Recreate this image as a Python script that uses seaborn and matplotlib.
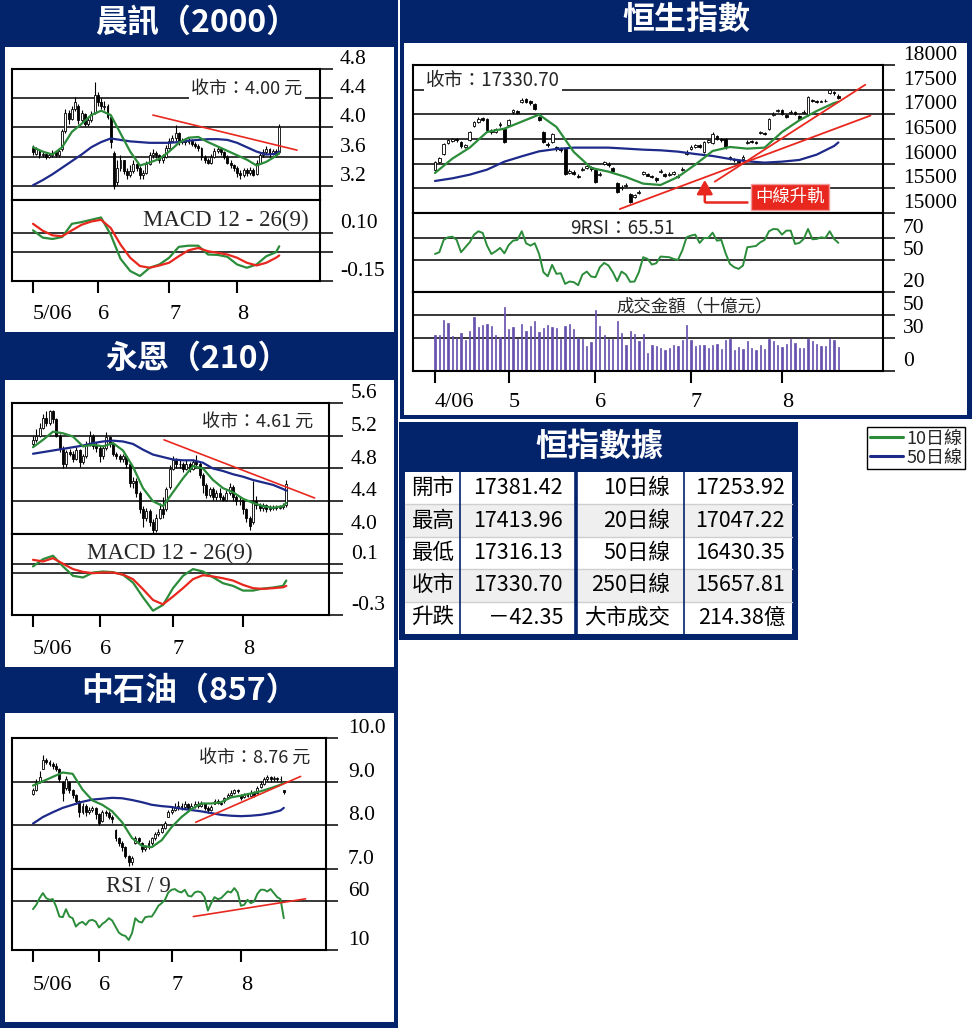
import numpy as np
import matplotlib
matplotlib.use('Agg')
import matplotlib.pyplot as plt
from matplotlib.patches import Rectangle
from matplotlib.lines import Line2D
import seaborn as sns

# ---------------- data ----------------
# trading-day index: 0 = first day of the chart window
stock_idx = [0, 3, 6, 9, 12, 15, 18, 21, 24, 27, 30, 33, 36, 39, 42, 45, 48,
             51, 54, 57, 60, 63, 66, 69, 72, 75, 76]
stock_ticks = [0, 20, 42, 63]
stock_tick_labels = ['5/06', '6', '7', '8']

# 晨訊 (2000)
cx_open = [3.72, 3.64, 3.68, 3.62, 3.64, 3.60, 3.62, 3.66, 3.62, 3.70,
           3.95, 4.20, 4.12, 4.25, 4.30, 4.10, 4.18, 4.05, 4.10, 4.20,
           4.45, 4.35, 4.28, 4.30, 4.15, 3.65, 3.25, 3.45, 3.55, 3.40,
           3.35, 3.40, 3.50, 3.45, 3.35, 3.38, 3.50, 3.62, 3.65, 3.62,
           3.55, 3.60, 3.72, 3.82, 3.85, 3.92, 3.80, 3.82, 3.80, 3.82,
           3.78, 3.75, 3.72, 3.60, 3.55, 3.52, 3.60, 3.68, 3.70, 3.66,
           3.60, 3.52, 3.48, 3.45, 3.38, 3.35, 3.42, 3.38, 3.42, 3.36,
           3.52, 3.62, 3.66, 3.70, 3.64, 3.68, 3.66]
cx_close = [3.66, 3.70, 3.62, 3.64, 3.60, 3.62, 3.65, 3.62, 3.68, 3.95,
            4.20, 4.12, 4.25, 4.35, 4.10, 4.20, 4.05, 4.10, 4.18, 4.45,
            4.35, 4.30, 4.30, 4.15, 3.80, 3.20, 3.45, 3.55, 3.40, 3.35,
            3.40, 3.50, 3.45, 3.35, 3.38, 3.50, 3.62, 3.65, 3.62, 3.55,
            3.60, 3.72, 3.82, 3.85, 3.92, 3.80, 3.82, 3.80, 3.82, 3.78,
            3.75, 3.72, 3.60, 3.55, 3.52, 3.60, 3.68, 3.70, 3.66, 3.60,
            3.52, 3.48, 3.45, 3.38, 3.35, 3.42, 3.38, 3.42, 3.35, 3.52,
            3.62, 3.66, 3.70, 3.64, 3.68, 3.62, 4.00]
cx_high = [3.76, 3.73, 3.70, 3.67, 3.66, 3.65, 3.69, 3.68, 3.72, 3.98,
           4.25, 4.24, 4.30, 4.42, 4.32, 4.24, 4.20, 4.14, 4.22, 4.62,
           4.48, 4.40, 4.36, 4.32, 4.16, 3.68, 3.55, 3.62, 3.56, 3.45,
           3.48, 3.56, 3.52, 3.47, 3.42, 3.54, 3.66, 3.70, 3.68, 3.64,
           3.64, 3.76, 3.86, 3.90, 4.03, 3.94, 3.86, 3.85, 3.86, 3.84,
           3.80, 3.77, 3.73, 3.62, 3.58, 3.64, 3.72, 3.74, 3.72, 3.68,
           3.62, 3.55, 3.50, 3.47, 3.42, 3.45, 3.44, 3.46, 3.44, 3.55,
           3.66, 3.70, 3.74, 3.72, 3.71, 3.70, 4.05]
cx_low = [3.62, 3.62, 3.58, 3.60, 3.57, 3.58, 3.60, 3.60, 3.60, 3.68,
          3.92, 4.05, 4.10, 4.22, 4.05, 4.08, 4.02, 4.02, 4.08, 4.18,
          4.30, 4.25, 4.24, 4.12, 3.72, 3.16, 3.22, 3.40, 3.36, 3.30,
          3.32, 3.38, 3.40, 3.30, 3.30, 3.36, 3.48, 3.58, 3.58, 3.52,
          3.52, 3.58, 3.70, 3.80, 3.82, 3.76, 3.77, 3.76, 3.77, 3.74,
          3.72, 3.68, 3.56, 3.52, 3.50, 3.50, 3.58, 3.65, 3.63, 3.57,
          3.50, 3.45, 3.40, 3.32, 3.30, 3.32, 3.33, 3.35, 3.33, 3.35,
          3.50, 3.60, 3.64, 3.60, 3.62, 3.60, 3.64]
cx_ma10 = [3.73, 3.67, 3.63, 3.73, 3.94, 4.05, 4.17, 4.23, 4.17, 3.92, 3.67,
           3.48, 3.52, 3.57, 3.67, 3.79, 3.86, 3.87, 3.80, 3.74, 3.68, 3.62,
           3.56, 3.48, 3.53, 3.61, 3.65]
cx_ma50 = [3.21, 3.28, 3.36, 3.45, 3.54, 3.63, 3.73, 3.80, 3.85, 3.83, 3.81,
           3.80, 3.79, 3.79, 3.79, 3.80, 3.82, 3.83, 3.84, 3.84, 3.83, 3.79,
           3.73, 3.67, 3.63, 3.64, 3.67]
cx_macd = [0.114, 0.076, 0.069, 0.079, 0.148, 0.157, 0.169, 0.181, 0.091,
           -0.034, -0.098, -0.124, -0.081, -0.064, -0.029, 0.028, 0.034,
           0.034, -0.012, -0.014, -0.024, -0.064, -0.081, -0.064, -0.021,
           0.0, 0.031]
cx_signal = [0.148, 0.112, 0.088, 0.083, 0.114, 0.143, 0.160, 0.169, 0.126,
             0.040, -0.029, -0.072, -0.081, -0.069, -0.055, -0.021, 0.010,
             0.022, 0.005, -0.003, -0.012, -0.029, -0.055, -0.069, -0.055,
             -0.029, -0.017]
cx_trend_x = [37, 81.5]
cx_trend_y = [4.17, 3.69]

# 永恩 (210)
ye_open = [5.10, 5.15, 5.20, 5.30, 5.42, 5.35, 5.50, 5.40, 5.20, 5.05,
           4.85, 5.00, 4.98, 4.92, 5.02, 4.88, 4.95, 5.10, 5.20, 5.08,
           5.05, 4.95, 5.05, 5.18, 5.10, 4.98, 4.95, 4.92, 4.95, 4.85,
           4.62, 4.65, 4.50, 4.30, 4.20, 4.28, 4.15, 4.05, 4.20, 4.30,
           4.30, 4.58, 4.80, 4.90, 4.85, 4.85, 4.80, 4.85, 4.80, 4.88,
           4.85, 4.72, 4.60, 4.48, 4.55, 4.45, 4.50, 4.45, 4.42, 4.50,
           4.58, 4.45, 4.40, 4.42, 4.30, 4.20, 4.15, 4.40, 4.35, 4.32,
           4.35, 4.30, 4.32, 4.33, 4.32, 4.33, 4.35]
ye_close = [5.15, 5.20, 5.30, 5.42, 5.35, 5.50, 5.40, 5.20, 5.05, 4.85,
            5.00, 4.98, 4.92, 5.02, 4.88, 4.95, 5.10, 5.20, 5.08, 5.05,
            4.95, 5.05, 5.18, 5.10, 4.98, 4.95, 4.92, 4.95, 4.85, 4.62,
            4.65, 4.50, 4.30, 4.20, 4.28, 4.15, 4.05, 4.20, 4.30, 4.25,
            4.55, 4.80, 4.90, 4.85, 4.85, 4.80, 4.85, 4.80, 4.88, 4.85,
            4.72, 4.60, 4.48, 4.55, 4.45, 4.50, 4.45, 4.42, 4.50, 4.58,
            4.45, 4.40, 4.42, 4.30, 4.20, 4.10, 4.40, 4.35, 4.32, 4.35,
            4.30, 4.32, 4.33, 4.32, 4.33, 4.35, 4.61]
ye_high = [5.20, 5.28, 5.36, 5.46, 5.50, 5.52, 5.52, 5.42, 5.22, 5.08,
           5.03, 5.04, 5.01, 5.06, 5.04, 4.98, 5.14, 5.26, 5.22, 5.12,
           5.07, 5.08, 5.25, 5.20, 5.12, 5.00, 4.98, 4.98, 4.96, 4.86,
           4.70, 4.68, 4.52, 4.34, 4.32, 4.30, 4.18, 4.24, 4.38, 4.45,
           4.58, 4.84, 4.95, 4.93, 4.90, 4.88, 4.90, 4.88, 4.92, 4.96,
           4.88, 4.74, 4.62, 4.58, 4.58, 4.54, 4.56, 4.48, 4.54, 4.62,
           4.60, 4.48, 4.46, 4.44, 4.32, 4.22, 4.65, 4.46, 4.38, 4.38,
           4.37, 4.35, 4.36, 4.35, 4.36, 4.38, 4.66]
ye_low = [5.08, 5.12, 5.18, 5.28, 5.32, 5.33, 5.35, 5.18, 5.00, 4.80,
          4.82, 4.95, 4.88, 4.90, 4.82, 4.85, 4.93, 5.08, 5.04, 5.00,
          4.88, 4.92, 5.02, 5.06, 4.95, 4.92, 4.88, 4.88, 4.80, 4.58,
          4.56, 4.45, 4.26, 4.08, 4.16, 4.10, 4.00, 4.02, 4.18, 4.20,
          4.28, 4.55, 4.78, 4.80, 4.80, 4.76, 4.78, 4.76, 4.78, 4.82,
          4.68, 4.50, 4.44, 4.45, 4.42, 4.42, 4.42, 4.40, 4.40, 4.48,
          4.40, 4.36, 4.36, 4.25, 4.15, 4.05, 4.12, 4.30, 4.28, 4.28,
          4.27, 4.28, 4.29, 4.29, 4.30, 4.31, 4.33]
ye_ma10 = [5.06, 5.15, 5.25, 5.23, 5.19, 5.07, 5.09, 5.07, 5.11, 5.02, 4.82,
           4.56, 4.40, 4.34, 4.51, 4.68, 4.83, 4.80, 4.66, 4.56, 4.51, 4.43,
           4.38, 4.34, 4.32, 4.34, 4.38]
ye_ma50 = [4.98, 5.00, 5.02, 5.04, 5.06, 5.08, 5.11, 5.13, 5.14, 5.13, 5.10,
           5.03, 4.97, 4.94, 4.91, 4.90, 4.90, 4.87, 4.80, 4.77, 4.73, 4.70,
           4.66, 4.63, 4.60, 4.55, 4.53]
ye_macd = [0.082, 0.139, 0.166, 0.082, 0.008, -0.005, 0.034, 0.042, 0.037,
           0.016, -0.045, -0.161, -0.266, -0.221, -0.089, 0.008, 0.061,
           0.042, -0.003, -0.050, -0.071, -0.108, -0.108, -0.092, -0.084,
           -0.071, -0.029]
ye_signal = [0.134, 0.121, 0.147, 0.103, 0.061, 0.039, 0.029, 0.034, 0.034,
             0.018, -0.018, -0.097, -0.182, -0.216, -0.155, -0.089, -0.018,
             0.013, 0.003, -0.011, -0.029, -0.063, -0.089, -0.095, -0.089,
             -0.082, -0.071]
ye_trend_x = [39.3, 84.5]
ye_trend_y = [5.15, 4.44]

# 中石油 (857)
zs_open = [8.72, 8.80, 9.00, 9.30, 9.50, 9.45, 9.40, 9.35, 9.30, 9.00,
           8.85, 9.00, 8.80, 8.70, 8.55, 8.30, 8.45, 8.30, 8.35, 8.40,
           8.25, 8.10, 8.30, 8.28, 8.20, 7.90, 7.70, 7.60, 7.50, 7.30,
           7.15, 7.60, 7.70, 7.60, 7.45, 7.50, 7.60, 7.70, 7.80, 7.85,
           7.95, 8.20, 8.30, 8.35, 8.40, 8.45, 8.42, 8.48, 8.40, 8.45,
           8.48, 8.45, 8.50, 8.40, 8.35, 8.50, 8.55, 8.52, 8.55, 8.65,
           8.70, 8.75, 8.80, 8.70, 8.65, 8.70, 8.68, 8.75, 8.75, 8.88,
           8.95, 9.05, 9.10, 9.05, 9.08, 9.05, 8.80]
zs_close = [8.80, 9.00, 9.10, 9.50, 9.45, 9.40, 9.35, 9.30, 9.05, 8.75,
            9.05, 8.80, 8.70, 8.55, 8.30, 8.45, 8.30, 8.35, 8.40, 8.25,
            8.05, 8.30, 8.28, 8.20, 8.15, 7.70, 7.60, 7.50, 7.30, 7.15,
            7.25, 7.70, 7.65, 7.45, 7.50, 7.60, 7.70, 7.80, 7.85, 7.95,
            8.05, 8.30, 8.35, 8.40, 8.45, 8.42, 8.48, 8.40, 8.45, 8.48,
            8.45, 8.50, 8.40, 8.35, 8.42, 8.55, 8.52, 8.50, 8.62, 8.70,
            8.75, 8.80, 8.78, 8.62, 8.70, 8.68, 8.75, 8.70, 8.85, 8.95,
            9.05, 9.10, 9.05, 9.08, 9.05, 9.07, 8.76]
zs_high = [8.86, 9.05, 9.25, 9.62, 9.55, 9.50, 9.45, 9.42, 9.32, 9.02,
           9.12, 9.02, 8.84, 8.72, 8.58, 8.50, 8.48, 8.42, 8.45, 8.42,
           8.28, 8.35, 8.36, 8.32, 8.24, 7.92, 7.74, 7.64, 7.52, 7.32,
           7.30, 7.75, 7.74, 7.62, 7.56, 7.66, 7.74, 7.84, 7.92, 8.00,
           8.10, 8.35, 8.42, 8.50, 8.55, 8.52, 8.56, 8.52, 8.52, 8.56,
           8.55, 8.55, 8.52, 8.44, 8.46, 8.60, 8.60, 8.56, 8.66, 8.74,
           8.80, 8.84, 8.84, 8.72, 8.74, 8.74, 8.80, 8.78, 8.90, 9.02,
           9.10, 9.15, 9.12, 9.12, 9.11, 9.12, 8.82]
zs_low = [8.70, 8.78, 8.98, 9.28, 9.40, 9.35, 9.30, 9.25, 9.00, 8.55,
          8.82, 8.75, 8.62, 8.48, 8.20, 8.25, 8.22, 8.25, 8.30, 8.15,
          8.00, 8.08, 8.22, 8.15, 8.05, 7.65, 7.52, 7.42, 7.25, 7.08,
          7.10, 7.58, 7.60, 7.38, 7.42, 7.46, 7.56, 7.66, 7.76, 7.82,
          7.92, 8.18, 8.26, 8.32, 8.36, 8.36, 8.38, 8.34, 8.36, 8.40,
          8.40, 8.42, 8.34, 8.28, 8.32, 8.48, 8.48, 8.46, 8.52, 8.62,
          8.68, 8.72, 8.74, 8.58, 8.62, 8.64, 8.66, 8.66, 8.72, 8.85,
          8.92, 9.02, 9.00, 9.02, 9.01, 9.02, 8.72]
zs_ma10 = [8.91, 9.01, 9.11, 9.21, 9.18, 8.82, 8.57, 8.47, 8.32, 8.07, 7.71,
           7.53, 7.50, 7.66, 7.96, 8.19, 8.37, 8.50, 8.50, 8.53, 8.64, 8.68,
           8.73, 8.78, 8.85, 8.93, 8.97]
zs_ma50 = [8.04, 8.19, 8.30, 8.40, 8.47, 8.54, 8.59, 8.61, 8.63, 8.62, 8.58,
           8.53, 8.47, 8.44, 8.42, 8.38, 8.35, 8.32, 8.28, 8.24, 8.22, 8.21,
           8.22, 8.24, 8.28, 8.34, 8.40]
zs_rsi = [51.5, 55.9, 62.7, 67.8, 62.7, 61.0, 61.7, 54.2, 44.0, 43.3,
          51.5, 44.0, 42.3, 33.8, 37.2, 38.6, 35.5, 39.9, 40.6, 38.9,
          32.8, 36.5, 38.9, 42.3, 39.9, 33.8, 27.7, 25.3, 24.3, 20.2,
          27.0, 42.3, 38.9, 37.9, 43.3, 44.0, 44.0, 49.1, 54.9, 57.6,
          61.0, 68.5, 71.2, 71.9, 69.5, 68.5, 71.2, 65.1, 64.4, 68.5,
          69.5, 68.5, 63.7, 50.1, 57.6, 63.7, 61.7, 62.7, 66.1, 69.5,
          68.5, 72.9, 68.5, 54.9, 55.9, 61.0, 57.6, 59.3, 67.1, 71.2,
          71.2, 69.5, 71.9, 67.8, 63.7, 61.7, 42.3]
zs_trend_x = [49.3, 81.1]
zs_trend_y = [8.07, 9.12]
zs_rsi_trend_x = [48.6, 82.6]
zs_rsi_trend_y = [44.0, 62.0]

# 恒生指數
hsi_idx = [0, 4, 8, 12, 16, 20, 24, 28, 32, 36, 40, 44, 48, 52, 56, 60, 64,
           68, 72, 76, 80, 84, 88, 92, 93]
hsi_ticks = [0, 17, 37, 59, 80]
hsi_tick_labels = ['4/06', '5', '6', '7', '8']
hsi_open = [15880, 16040, 16200, 16420, 16460, 16500, 16440, 16340, 16470, 16760,
            16850, 16920, 16910, 16680, 16650, 16780, 16700, 16780, 17040, 17060,
            17250, 17310, 17270, 17200, 16950, 16640, 16400, 16440, 16340, 16310,
            16300, 15820, 15840, 15760, 15880, 15920, 15940, 15870, 15780, 16000,
            16000, 15920, 15610, 15500, 15540, 15390, 15320, 15400, 15800, 15790,
            15760, 15700, 15830, 15790, 15780, 15800, 15760, 15870, 16200, 16300,
            16340, 16370, 16240, 16440, 16410, 16560, 16500, 16500, 16130, 16090,
            16060, 16100, 16420, 16460, 16440, 16620, 16630, 16710, 16980, 17060,
            17080, 16990, 17020, 17040, 16960, 17020, 16980, 17300, 17270, 17260,
            17270, 17440, 17460, 17381.42]
hsi_close = [16030, 16115, 16400, 16470, 16490, 16470, 16350, 16370, 16640, 16845,
             16910, 16890, 16680, 16640, 16710, 16810, 16440, 16880, 17080, 17030,
             17300, 17260, 17220, 17110, 16890, 16440, 16370, 16610, 16300, 16270,
             15800, 15860, 15800, 15730, 15900, 15950, 15900, 15630, 15800, 16030,
             15970, 15860, 15430, 15530, 15560, 15220, 15360, 15430, 15830, 15760,
             15730, 15660, 15860, 15760, 15800, 15830, 15730, 15900, 16240, 16340,
             16370, 16340, 16440, 16470, 16610, 16510, 16470, 16330, 16100, 16070,
             16030, 16140, 16440, 16440, 16420, 16640, 16610, 16910, 17010, 17080,
             17010, 16950, 17050, 17010, 16910, 17050, 17350, 17280, 17250, 17270,
             17280, 17490, 17430, 17330.70]
hsi_high = [16060, 16140, 16420, 16500, 16520, 16530, 16460, 16400, 16660, 16870,
            16940, 16950, 16930, 16700, 16730, 16850, 16720, 16900, 17100, 17090,
            17330, 17330, 17290, 17220, 16970, 16660, 16440, 16630, 16360, 16330,
            16320, 15900, 15870, 15790, 15930, 15980, 15960, 15890, 15840, 16060,
            16030, 15940, 15630, 15560, 15600, 15410, 15390, 15460, 15860, 15820,
            15780, 15720, 15890, 15820, 15830, 15860, 15790, 15930, 16270, 16370,
            16400, 16390, 16460, 16500, 16640, 16580, 16530, 16520, 16150, 16110,
            16080, 16170, 16470, 16480, 16460, 16670, 16650, 16930, 17040, 17110,
            17100, 17010, 17080, 17060, 16980, 17080, 17370, 17320, 17290, 17300,
            17310, 17510, 17480, 17413.96]
hsi_low = [15850, 16010, 16180, 16390, 16430, 16440, 16320, 16310, 16450, 16740,
           16820, 16860, 16650, 16610, 16620, 16750, 16420, 16760, 17010, 17000,
           17230, 17230, 17190, 17080, 16860, 16410, 16340, 16420, 16260, 16240,
           15780, 15790, 15770, 15700, 15860, 15900, 15860, 15600, 15760, 15980,
           15940, 15830, 15400, 15470, 15520, 15200, 15300, 15380, 15780, 15740,
           15700, 15630, 15810, 15730, 15760, 15780, 15700, 15850, 16180, 16280,
           16310, 16310, 16220, 16420, 16390, 16480, 16440, 16300, 16070, 16040,
           16000, 16080, 16400, 16410, 16390, 16600, 16580, 16690, 16960, 17040,
           16980, 16920, 17000, 16980, 16880, 17000, 16960, 17250, 17230, 17240,
           17250, 17420, 17400, 17316.13]
hsi_ma10 = [15811, 16102, 16325, 16642, 16710, 16852, 16994, 16744, 16237,
            15913, 15838, 15730, 15595, 15568, 15730, 15980, 16257, 16338,
            16305, 16325, 16642, 16879, 17068, 17230, 17253.92]
hsi_ma50 = [15649, 15703, 15777, 15879, 16041, 16149, 16250, 16298, 16325,
            16325, 16325, 16305, 16284, 16271, 16244, 16196, 16156, 16095,
            16048, 16021, 16041, 16075, 16183, 16358, 16430.35]
hsi_rsi = [55.2, 56.8, 68.2, 70.6, 71.2, 68.2, 56.8, 61.4, 66.0, 73.0,
           76.2, 74.6, 62.9, 55.2, 57.7, 60.8, 55.8, 63.5, 67.5, 68.2,
           76.2, 65.1, 62.9, 65.1, 55.2, 38.3, 34.6, 45.1, 36.8, 37.4,
           27.5, 29.7, 29.1, 26.3, 36.2, 38.9, 34.3, 33.7, 42.9, 46.9,
           44.5, 38.3, 30.0, 38.9, 36.2, 29.4, 29.7, 38.3, 52.2, 50.6,
           45.4, 46.6, 52.8, 52.5, 52.2, 50.6, 49.7, 58.3, 70.6, 72.2,
           73.1, 65.4, 70.0, 70.0, 74.9, 67.5, 68.2, 55.8, 46.0, 42.9,
           41.4, 44.5, 61.4, 62.0, 62.6, 66.0, 68.2, 76.2, 78.3, 78.0,
           73.1, 76.8, 76.8, 64.5, 65.4, 69.1, 78.3, 68.8, 69.1, 70.6,
           70.0, 76.2, 69.1, 65.51]
hsi_vol = [32.3, 32.3, 46.0, 43.0, 31.7, 29.8, 33.8, 27.7, 36.0, 48.6,
           39.4, 41.5, 42.2, 40.6, 32.3, 30.2, 57.5, 37.5, 39.4, 29.2,
           42.2, 36.0, 40.6, 45.2, 34.8, 38.5, 41.2, 39.1, 38.5, 29.2,
           40.6, 42.2, 37.5, 29.8, 29.2, 22.2, 25.8, 54.5, 40.6, 32.3,
           29.2, 29.2, 45.2, 33.8, 23.0, 36.0, 33.2, 26.8, 33.2, 16.3,
           23.0, 22.2, 20.6, 18.5, 20.6, 23.7, 22.2, 27.7, 41.5, 27.7,
           22.2, 23.0, 23.7, 20.6, 23.7, 24.6, 20.0, 27.7, 28.6, 18.5,
           21.5, 19.4, 26.8, 20.6, 18.5, 23.0, 20.0, 28.6, 26.8, 23.0,
           21.5, 24.6, 29.2, 25.2, 20.6, 20.6, 29.2, 26.8, 24.6, 22.5,
           22.2, 28.6, 27.7, 21.438]
hsi_trend_a_x = [42.6, 100.4]
hsi_trend_a_y = [15080, 16975]
hsi_trend_b_x = [64.5, 99.2]
hsi_trend_b_y = [15635, 17600]

# 恒指數據 table
tbl_left_lab = ['開市', '最高', '最低', '收市', '升跌']
tbl_left_val = ['17381.42', '17413.96', '17316.13', '17330.70', '－42.35']
tbl_right_lab = ['10日線', '20日線', '50日線', '250日線', '大市成交']
tbl_right_val = ['17253.92', '17047.22', '16430.35', '15657.81', '214.38億']

# ---------------- style ----------------
W, H = 972, 1028
NAVY = '#03236b'
GREEN = '#2b8c3a'
BLUE = '#1d2a8a'
RED = '#e8281e'
PURPLE = '#6650ad'
SERIF = 'Liberation Serif'

sns.set_theme(style='white')
plt.rcParams['font.family'] = ['Noto Sans CJK TC', 'DejaVu Sans']
plt.rcParams['axes.unicode_minus'] = False

fig = plt.figure(figsize=(W / 100, H / 100), dpi=100)
fig.patch.set_facecolor('white')


def px_axes(x0, y0, x1, y1):
    return fig.add_axes([x0 / W, 1 - y1 / H, (x1 - x0) / W, (y1 - y0) / H])


def ftext(x, y, s, **kw):
    kw.setdefault('ha', 'center')
    kw.setdefault('va', 'center')
    return fig.text(x / W, 1 - y / H, s, **kw)


def pane(box, xlim, ylim, ticks, labels, grid, tlen, tpad):
    ax = px_axes(*box)
    ax.set_facecolor('white')
    for sp in ax.spines.values():
        sp.set_visible(True)
        sp.set_color('black')
        sp.set_linewidth(1.5)
    for g in grid:
        ax.axhline(g, color='black', lw=1.1, zorder=1)
    ax.yaxis.tick_right()
    ax.set_yticks(ticks)
    ax.set_yticklabels(labels, fontfamily=SERIF, fontsize=15.5, va='bottom')
    ax.tick_params(axis='y', direction='out', length=tlen, width=1.1,
                   colors='black', pad=tpad, right=True, left=False)
    ax.set_xticks([])
    ax.set_xlim(*xlim)
    ax.set_ylim(*ylim)
    return ax


def month_ticks(ax, pos, labels, pad):
    ax.set_xticks(pos)
    ax.set_xticklabels(labels, fontfamily=SERIF, fontsize=16, ha='left')
    ax.tick_params(axis='x', direction='out', length=8.6, width=1.5,
                   colors='black', pad=pad, bottom=True)


def draw_candles(ax, op, cl, hi, lo, width):
    x = np.arange(len(cl))
    op, cl, hi, lo = map(np.asarray, (op, cl, hi, lo))
    ax.vlines(x, lo, hi, color='black', lw=0.8, zorder=3)
    up = cl >= op
    bottom = np.minimum(op, cl)
    height = np.abs(cl - op)
    ax.bar(x[up], height[up], width, bottom=bottom[up], color='white',
           edgecolor='black', linewidth=0.6, zorder=4)
    ax.bar(x[~up], height[~up], width, bottom=bottom[~up], color='black',
           edgecolor='black', linewidth=0.6, zorder=4)


def line(ax, x, y, color, lw=1.6):
    sns.lineplot(x=x, y=y, ax=ax, color=color, linewidth=lw, sort=False,
                 estimator=None, zorder=5)
    ax.set_xlabel('')
    ax.set_ylabel('')


def xlim_for(left_px, right_px, x0_px, ppd):
    return ((left_px - x0_px) / ppd, (right_px - x0_px) / ppd)


# ---------------- background & frames ----------------
bg = fig.add_axes([0, 0, 1, 1])
bg.set_zorder(-10)
bg.set_xlim(0, W)
bg.set_ylim(H, 0)
bg.axis('off')


def rect(x0, y0, x1, y1, **kw):
    bg.add_patch(Rectangle((x0, y0), x1 - x0, y1 - y0, **kw))


rect(0, 0, 398, H, fc=NAVY, ec='none')
rect(400, 0, W, 419, fc=NAVY, ec='none')
rect(5, 47, 394, 332, fc='white', ec='none')
rect(5, 380, 394, 667, fc='white', ec='none')
rect(5, 713, 394, 1022, fc='white', ec='none')
rect(404, 43, 967, 415, fc='white', ec='none')

title_kw = dict(color='white', fontsize=23, fontweight='heavy',
                ha='center', va='center')
bg.text(197, 23, '晨訊（2000）', **title_kw)
bg.text(197, 359, '永恩（210）', **title_kw)
bg.text(190, 691, '中石油（857）', **title_kw)
bg.text(686, 20, '恒生指數', **title_kw)

# ---------------- 晨訊 ----------------
xl = xlim_for(12, 320, 33, 3.24)
ax = pane((12, 69, 320, 200), xl, (3.008, 4.8), [3.2, 3.6, 4.0, 4.4, 4.8],
          ['3.2', '3.6', '4.0', '4.4', '4.8'], [3.2, 3.6, 4.0, 4.4], 9.4, 5)
draw_candles(ax, cx_open, cx_close, cx_high, cx_low, 0.6)
line(ax, stock_idx, cx_ma50, BLUE)
line(ax, stock_idx, cx_ma10, GREEN)
ax.plot(cx_trend_x, cx_trend_y, color=RED, lw=1.2, zorder=6)
ax.set_xlim(*xl)
am = pane((12, 200, 320, 281), xl, (-0.15, 0.272), [-0.15, 0, 0.10],
          ['-0.15', '', '0.10'], [0, 0.10], 9.4, 5)
line(am, stock_idx, cx_macd, GREEN)
line(am, stock_idx, cx_signal, RED)
month_ticks(am, stock_ticks, stock_tick_labels, 8.6)
am.set_xlim(*xl)
ftext(247, 89, '收市：4.00 元', fontsize=13,
      bbox=dict(fc='white', ec='none', pad=1.5))
ftext(226, 220, 'MACD 12 - 26(9)', fontfamily=SERIF, fontsize=16.5)

# ---------------- 永恩 ----------------
xl = xlim_for(12, 329, 33, 3.333)
ax = pane((12, 403, 329, 534), xl, (4.0, 5.6), [4.0, 4.4, 4.8, 5.2, 5.6],
          ['4.0', '4.4', '4.8', '5.2', '5.6'], [4.4, 4.8, 5.2], 10, 5.8)
draw_candles(ax, ye_open, ye_close, ye_high, ye_low, 0.6)
line(ax, stock_idx, ye_ma50, BLUE)
line(ax, stock_idx, ye_ma10, GREEN)
ax.plot(ye_trend_x, ye_trend_y, color=RED, lw=1.2, zorder=6)
ax.set_xlim(*xl)
am = pane((12, 534, 329, 615), xl, (-0.3, 0.337), [-0.3, 0.034, 0.1],
          ['-0.3', '', '0.1'], [0.034, 0.1], 10, 5.8)
line(am, stock_idx, ye_macd, GREEN)
line(am, stock_idx, ye_signal, RED)
month_ticks(am, stock_ticks, stock_tick_labels, 9.4)
am.set_xlim(*xl)
ftext(258, 422, '收市：4.61 元', fontsize=13)
ftext(170, 553, 'MACD 12 - 26(9)', fontfamily=SERIF, fontsize=16.5)

# ---------------- 中石油 ----------------
xl = xlim_for(12, 326, 33, 3.30)
ax = pane((12, 738, 326, 869), xl, (7.0, 10.0), [7.0, 8.0, 9.0, 10.0],
          ['7.0', '8.0', '9.0', '10.0'], [8.0, 9.0], 8.6, 7.2)
draw_candles(ax, zs_open, zs_close, zs_high, zs_low, 0.6)
line(ax, stock_idx, zs_ma50, BLUE)
line(ax, stock_idx, zs_ma10, GREEN)
ax.plot(zs_trend_x, zs_trend_y, color=RED, lw=1.2, zorder=6)
ax.set_xlim(*xl)
ar = pane((12, 869, 326, 950), xl, (10, 92.3), [10, 60], ['10', '60'],
          [60], 8.6, 7.2)
line(ar, np.arange(len(zs_rsi)), zs_rsi, GREEN, 1.4)
ar.plot(zs_rsi_trend_x, zs_rsi_trend_y, color=RED, lw=1.2, zorder=6)
month_ticks(ar, stock_ticks, stock_tick_labels, 10)
ar.set_xlim(*xl)
ftext(255, 758, '收市：8.76 元', fontsize=13)
ftext(138, 886, 'RSI / 9', fontfamily=SERIF, fontsize=16.5)

# ---------------- 恒生指數 ----------------
xl = xlim_for(413, 883, 435, 4.3375)
hp = [15000, 15500, 16000, 16500, 17000, 17500, 18000]
ax = pane((413, 65, 883, 213), xl, (15000, 18000), hp,
          [str(v) for v in hp], hp[1:-1], 8.6, 5.8)
draw_candles(ax, hsi_open, hsi_close, hsi_high, hsi_low, 0.65)
line(ax, hsi_idx, hsi_ma50, BLUE)
line(ax, hsi_idx, hsi_ma10, GREEN)
ax.plot(hsi_trend_a_x, hsi_trend_a_y, color=RED, lw=1.3, zorder=6)
ax.plot(hsi_trend_b_x, hsi_trend_b_y, color=RED, lw=1.3, zorder=6)
ax.plot([62.2, 71.9], [15229, 15229], color=RED, lw=1.8, zorder=6)
ax.annotate('', xy=(62.2, 15669), xytext=(62.2, 15229),
            arrowprops=dict(arrowstyle='-|>,head_length=0.7,head_width=0.4',
                            color=RED, lw=1.8, shrinkA=0, shrinkB=0,
                            mutation_scale=12), zorder=6)
ax.set_xlim(*xl)

ar = pane((413, 213, 883, 292), xl, (20, 93.1), [20, 50, 70],
          ['20', '50', '70'], [50, 70], 8.6, 5.8)
line(ar, np.arange(len(hsi_rsi)), hsi_rsi, GREEN, 1.4)
ar.set_xlim(*xl)

av = pane((413, 292, 883, 371), xl, (0, 71), [0, 30, 50],
          ['0', '30', '50'], [30, 50], 8.6, 5.8)
av.bar(np.arange(len(hsi_vol)), hsi_vol, 0.3, color=PURPLE,
       edgecolor=PURPLE, linewidth=0.5, zorder=2)
month_ticks(av, hsi_ticks, hsi_tick_labels, 7)
av.set_xlim(*xl)

ftext(493, 81, '收市：17330.70', fontsize=13.5,
      bbox=dict(fc='white', ec='none', pad=1.5))
ftext(622, 228, '9RSI：65.51', fontsize=13.5)
ftext(695, 306, '成交金額（十億元）', fontsize=12.5)
ftext(790, 197, '中線升軌', color='white', fontsize=12.5,
      bbox=dict(boxstyle='square,pad=0.25', fc=RED, ec='#f29a9a', lw=1))

# ---------------- 恒指數據 table ----------------
rect(399, 422, 798, 640, fc=NAVY, ec='none')
bg.text(599, 447, '恒指數據', **title_kw)
row_top, row_h = 472, 32.4
cell_kw = dict(fontsize=15.5, color='black', va='center')
for r in range(len(tbl_left_lab)):
    y0 = row_top + r * row_h
    rect(405, y0, 792, y0 + row_h, fc='white' if r % 2 == 0 else '#efefef',
         ec='none')
    if r:
        bg.plot([405, 792], [y0, y0], color='#cfcfcf', lw=1)
    yc = y0 + row_h / 2
    bg.text(433, yc, tbl_left_lab[r], ha='center', **cell_kw)
    bg.text(563, yc, tbl_left_val[r], ha='right', **cell_kw)
    bg.text(670, yc, tbl_right_lab[r], ha='right', **cell_kw)
    bg.text(785, yc, tbl_right_val[r], ha='right', **cell_kw)
for xs, lw in [(460, 1.2), (576, 2.6), (684, 1.2)]:
    bg.plot([xs, xs], [row_top, row_top + 5 * row_h], color=NAVY, lw=lw)

# ---------------- legend ----------------
handles = [Line2D([], [], color=GREEN, lw=2.2), Line2D([], [], color=BLUE, lw=2.2)]
leg = fig.legend(handles, ['10日線', '50日線'], loc='upper right',
                 bbox_to_anchor=(965 / W, 1 - 427 / H), frameon=True,
                 fancybox=False, edgecolor='black', framealpha=1,
                 fontsize=13, handlelength=1.8, handletextpad=0.2,
                 borderpad=0.15, labelspacing=0.05, borderaxespad=0)
leg.get_frame().set_linewidth(1.0)

fig.savefig('out.png', dpi=100)
